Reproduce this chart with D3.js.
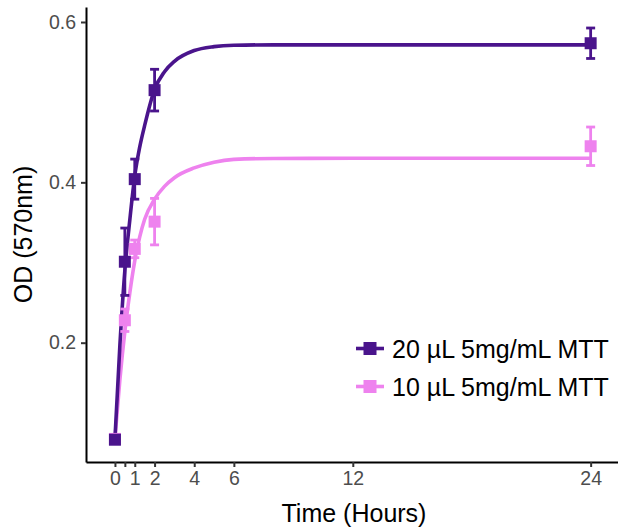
<!DOCTYPE html>
<html>
<head>
<meta charset="utf-8">
<script src="https://cdn.jsdelivr.net/npm/d3@7"></script>
<style>
  html, body { margin: 0; padding: 0; background: #fff; }
  svg { display: block; font-family: "Liberation Sans", Arial, sans-serif; }
</style>
</head>
<body>
<svg id="chart" width="618" height="529"></svg>
<script>
// Measured OD at each sampling time (mean and error half-width)
const sampleHours = [0, 0.5, 1, 2, 24];
const od20Mean = [0.079, 0.301, 0.404, 0.515, 0.5735];
const od20Err  = [0.004, 0.042, 0.025, 0.026, 0.019];
const od10Mean = [0.080, 0.228, 0.317, 0.351, 0.445];
const od10Err  = [0.003, 0.014, 0.011, 0.029, 0.024];

// Fitted saturation curves, sampled along the time axis
const curveHours = [0, 0.25, 0.5, 0.75, 1, 1.25, 1.5, 2, 2.5, 3, 4, 5, 6, 8, 12, 24];
const fit20 = [0.080, 0.197, 0.290, 0.353, 0.408, 0.444, 0.471, 0.516, 0.538, 0.551, 0.5644, 0.5693, 0.571, 0.5715, 0.5715, 0.5715];
const fit10 = [0.080, 0.154, 0.214, 0.262, 0.302, 0.332, 0.354, 0.379, 0.395, 0.4058, 0.418, 0.4252, 0.4286, 0.4298, 0.430, 0.430];

// Axis ticks
const xTicks = [0, 0.5, 1, 2, 4, 6, 12, 24];
const xTickLabels = ["0", "", "1", "2", "4", "6", "12", "24"];
const yTicks = [0.2, 0.4, 0.6];

const seriesNames = ["20 \u00B5L 5mg/mL MTT", "10 \u00B5L 5mg/mL MTT"];
const seriesColors = ["#4A148C", "#EE82EE"];

const svg = d3.select("#chart");

const x = d3.scaleLinear().domain([-1.46, 25.38]).range([86, 618]);
const y = d3.scaleLinear().domain([0.0512, 0.6187]).range([462, 7]);

const series = [
  { name: seriesNames[0], color: seriesColors[0], mean: od20Mean, err: od20Err, fit: fit20 },
  { name: seriesNames[1], color: seriesColors[1], mean: od10Mean, err: od10Err, fit: fit10 }
];
// draw the 10 µL series first so the 20 µL marks sit on top
const drawOrder = [series[1], series[0]];

// axes
const xAxis = d3.axisBottom(x)
  .tickValues(xTicks)
  .tickFormat((d, i) => xTickLabels[i])
  .tickSize(5).tickSizeOuter(0).tickPadding(4);
const yAxis = d3.axisLeft(y)
  .tickValues(yTicks)
  .tickFormat(d3.format(".1f"))
  .tickSize(5).tickSizeOuter(0).tickPadding(5);

const gx = svg.append("g").attr("transform", "translate(0,462)").call(xAxis);
const gy = svg.append("g").attr("transform", "translate(86,0)").call(yAxis);

[gx, gy].forEach(g => {
  g.select(".domain").attr("stroke", "#000").attr("stroke-width", 2);
  g.selectAll(".tick line").attr("stroke", "#333").attr("stroke-width", 2);
  g.selectAll(".tick text")
    .attr("fill", "#4D4D4D")
    .style("font-size", "19.5px")
    .style("font-family", "'Liberation Sans', Arial, sans-serif");
});

// axis titles
svg.append("text")
  .attr("x", 354).attr("y", 521.5)
  .attr("text-anchor", "middle")
  .style("font-size", "25px")
  .attr("fill", "#000")
  .text("Time (Hours)");

svg.append("text")
  .attr("transform", "translate(31.5,234.5) rotate(-90)")
  .attr("text-anchor", "middle")
  .style("font-size", "25px")
  .attr("fill", "#000")
  .text("OD (570nm)");

// fitted curves
const line = d3.line()
  .x(d => x(d[0]))
  .y(d => y(d[1]))
  .curve(d3.curveMonotoneX);

drawOrder.forEach(s => {
  svg.append("path")
    .datum(curveHours.map((h, i) => [h, s.fit[i]]))
    .attr("fill", "none")
    .attr("stroke", s.color)
    .attr("stroke-width", 3.6)
    .attr("stroke-linejoin", "round")
    .attr("d", line);
});

// error bars
const capHalf = 4.5;
drawOrder.forEach(s => {
  const g = svg.append("g").attr("stroke", s.color).attr("stroke-width", 2.8);
  sampleHours.forEach((h, i) => {
    const cx = x(h), top = y(s.mean[i] + s.err[i]), bot = y(s.mean[i] - s.err[i]);
    g.append("line").attr("x1", cx).attr("x2", cx).attr("y1", top).attr("y2", bot);
    g.append("line").attr("x1", cx - capHalf).attr("x2", cx + capHalf).attr("y1", top).attr("y2", top);
    g.append("line").attr("x1", cx - capHalf).attr("x2", cx + capHalf).attr("y1", bot).attr("y2", bot);
  });
});

// point markers
const sq = 12;
drawOrder.forEach(s => {
  svg.append("g").selectAll("rect")
    .data(sampleHours.map((h, i) => [h, s.mean[i]]))
    .join("rect")
    .attr("x", d => x(d[0]) - sq / 2)
    .attr("y", d => y(d[1]) - sq / 2)
    .attr("width", sq).attr("height", sq)
    .attr("fill", s.color);
});

// legend
const legend = svg.append("g");
series.forEach((s, i) => {
  const cy = 348.5 + i * 38;
  legend.append("line")
    .attr("x1", 356).attr("x2", 384).attr("y1", cy).attr("y2", cy)
    .attr("stroke", s.color).attr("stroke-width", 3.6);
  legend.append("rect")
    .attr("x", 370 - 6.5).attr("y", cy - 6.5)
    .attr("width", 13).attr("height", 13)
    .attr("fill", s.color);
  legend.append("text")
    .attr("x", 392).attr("y", cy + 9)
    .style("font-size", "25px")
    .attr("fill", "#000")
    .text(s.name);
});
</script>
</body>
</html>
